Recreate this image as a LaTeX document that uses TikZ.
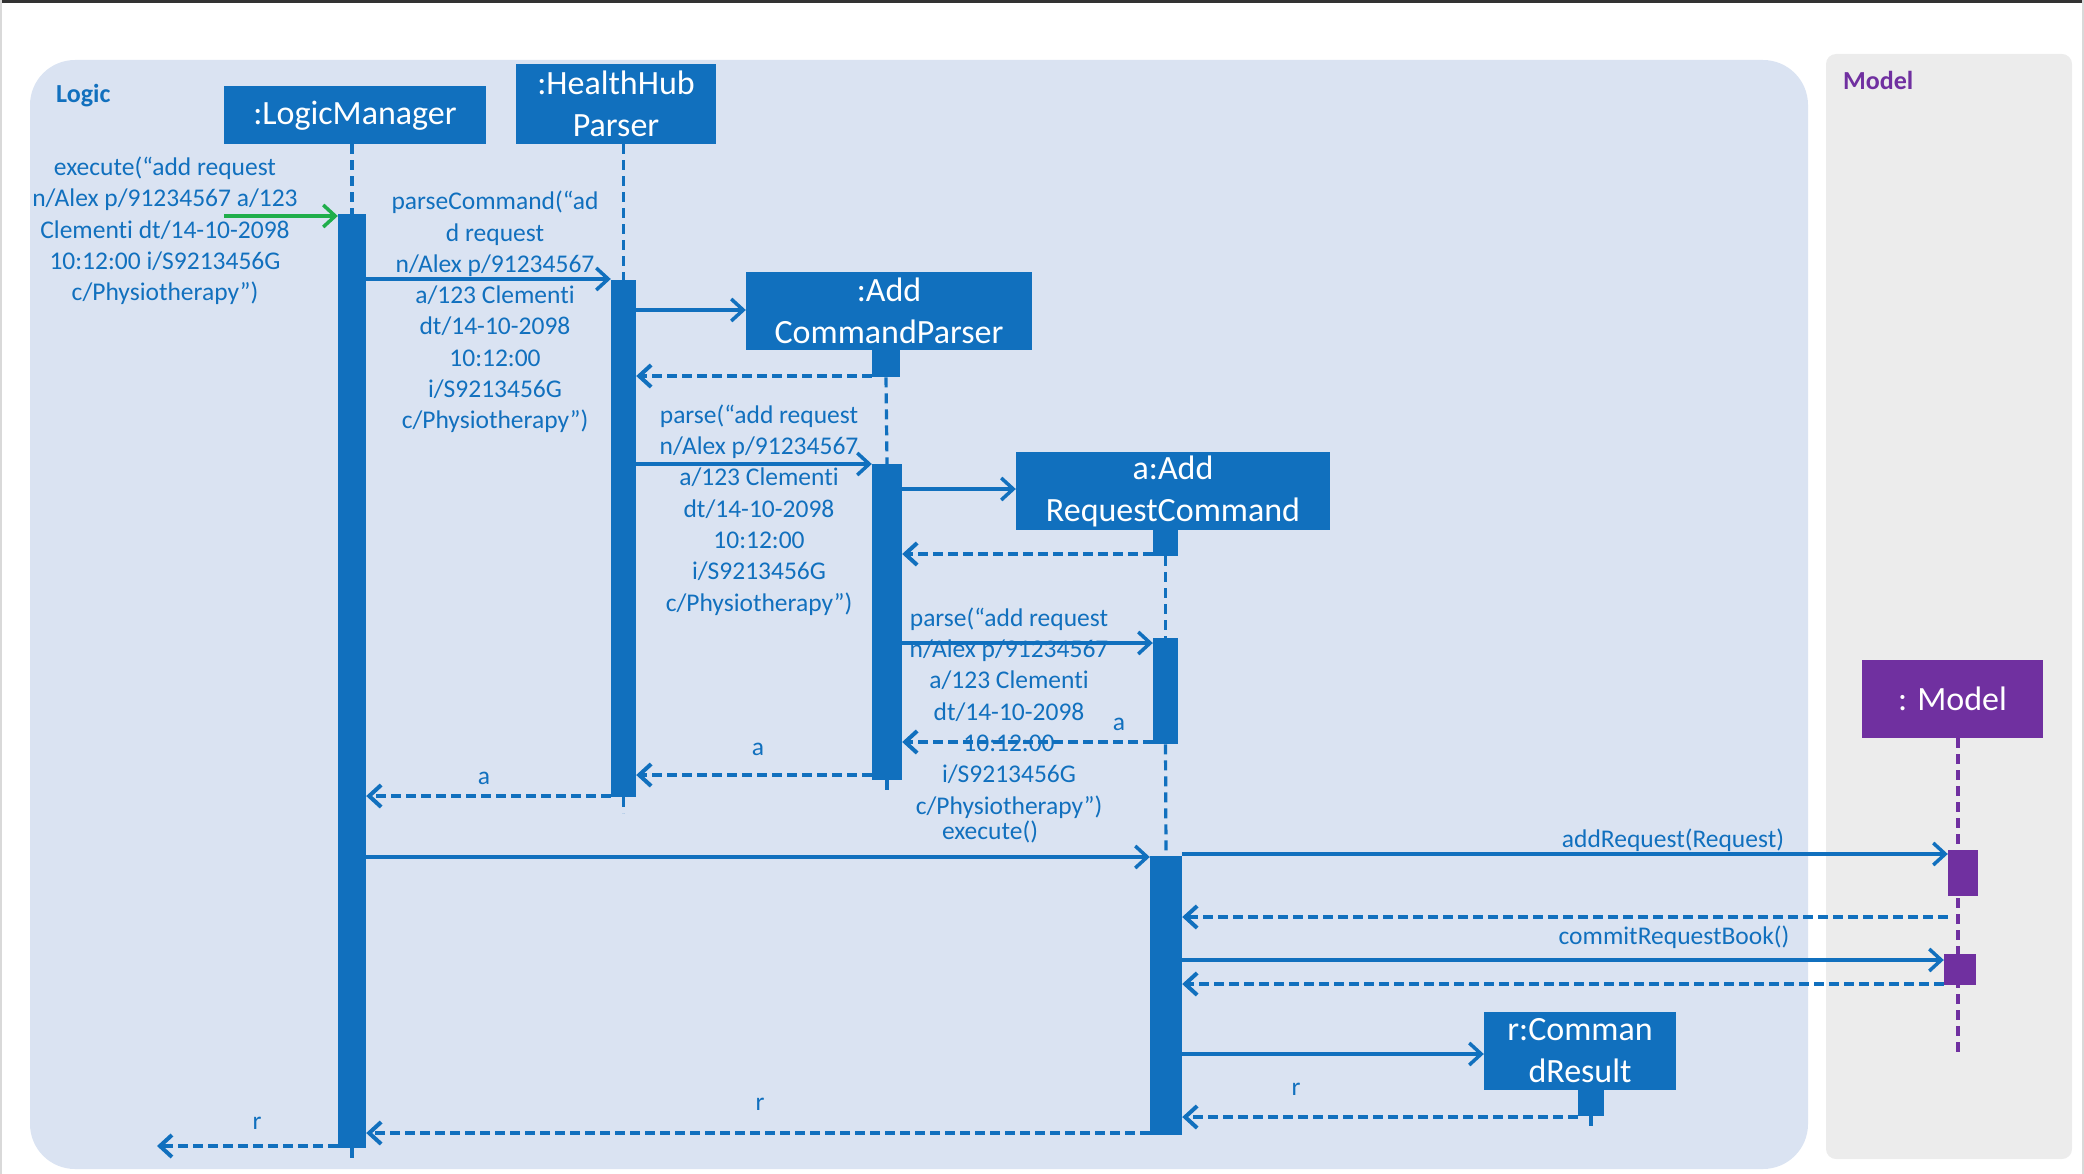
\documentclass[tikz,border=0pt]{standalone}
\usepackage{fontspec}
\setmainfont{Carlito}[Ligatures=NoCommon]
\usetikzlibrary{arrows.meta}
\definecolor{umlblue}{HTML}{1170BE}
\definecolor{umlpurple}{HTML}{7030A0}
\definecolor{umlgreen}{HTML}{1FAE4B}
\definecolor{logicbg}{HTML}{DAE3F2}
\definecolor{modelbg}{HTML}{ECECEC}

\begin{document}
\begin{tikzpicture}[x=1pt,y=-1pt,
  obj/.style={fill=umlblue,text=white,inner sep=0pt,align=center,font=\fontsize{34}{42}\selectfont},
  act/.style={fill=umlblue,inner sep=0pt,minimum width=28pt,anchor=north},
  life/.style={umlblue,line width=3.2pt,dash pattern=on 10pt off 6pt},
  msg/.style={umlblue,line width=3.5pt,-{Straight Barb[length=12pt,width=22pt]}},
  ret/.style={msg,line width=4pt,dash pattern=on 10pt off 5pt},
  lbl/.style={text=umlblue,inner sep=0pt,align=center,font=\fontsize{25.5}{31.3}\selectfont}]
\useasboundingbox (0,0) rectangle (2084,1174);
\fill[black!80] (0,0) rectangle (2084,3);
\fill[black!15] (0,0) rectangle (2,1174);
\fill[black!15] (2082,0) rectangle (2084,1174);

\fill[logicbg, rounded corners=45pt] (30,60) rectangle (1808,1169);
\fill[modelbg, rounded corners=10pt] (1826,54) rectangle (2072,1159);
\node[text=umlblue, font=\bfseries\fontsize{26}{30}\selectfont, anchor=west, inner sep=0pt] (logiclbl) at (56,96) {Logic};
\node[text=umlpurple, font=\bfseries\fontsize{26}{30}\selectfont, anchor=west, inner sep=0pt] (modellbl) at (1843,80) {Model};

\node[obj, minimum width=262pt, minimum height=58pt, text depth=4pt] (lm) at (355,115) {:LogicManager};
\node[obj, minimum width=200pt, minimum height=80pt] (hh) at (616,104) {:HealthHub\\Parser};
\node[obj, minimum width=286pt, minimum height=78pt] (acp) at (889,311) {:Add\\CommandParser};
\node[obj, minimum width=314pt, minimum height=78pt] (arc) at (1173,491) {a:Add\\RequestCommand};
\node[obj, fill=umlpurple, minimum width=181pt, minimum height=78pt] (model) at (1952.5,699) {: Model};
\node[obj, minimum width=192pt, minimum height=78pt] (cr) at (1580,1051) {r:Comman\\dResult};

\coordinate (modelend) at (1958,1054);
\draw[life, umlpurple] (model.south -| modelend) -- (modelend);

\node[act, minimum height=934pt] (lmA) at (352,214) {};
\node[act, minimum width=25pt, minimum height=517pt] (hhA) at (623.5,280) {};
\node[act, minimum height=27pt] (acpA1) at (886,350) {};
\node[act, minimum width=30pt, minimum height=316pt] (acpA2) at (887,464) {};
\node[act, minimum width=25pt, minimum height=26pt] (arcA1) at (1165.5,530) {};
\node[act, minimum width=25pt, minimum height=106pt] (arcA2) at (1165.5,638) {};
\node[act, minimum width=32pt, minimum height=279pt] (arcA3) at (1166,856) {};
\node[act, minimum width=26pt, minimum height=26pt] (crA) at (1591,1090) {};
\node[act, fill=umlpurple, minimum width=30pt, minimum height=46pt] (modA1) at (1963,850) {};
\node[act, fill=umlpurple, minimum width=32pt, minimum height=31pt] (modA2) at (1960,954) {};

\draw[life] (lm.south -| lmA.north) -- (lmA.north);
\draw[life] (lmA.south) -- ++(0,11);
\draw[life] (hh.south -| hhA.north) -- (hhA.north);
\draw[life] (hhA.south) -- ++(0,16);
\draw[life] (acpA1.south) -- (acpA2.north);
\draw[life] (acpA2.south) -- ++(0,10);
\draw[life] (arcA1.south) -- (arcA2.north);
\draw[life] (arcA2.south) -- (arcA3.north);
\draw[life] (crA.south) -- ++(0,13);

\coordinate (start) at (224,216);
\draw[msg, umlgreen] (start) -- (lmA.west |- start);
\draw[msg] (lmA.east |- 0,279) -- (hhA.west |- 0,279);
\draw[msg] (hhA.east |- 0,310) -- (acp.west |- 0,310);
\draw[ret] (acpA1.west |- 0,376) -- (hhA.east |- 0,376);
\draw[msg] (hhA.east |- acpA2.north) -- (acpA2.north west);
\draw[msg] (acpA2.east |- 0,489) -- (arc.west |- 0,489);
\draw[ret] (arcA1.west |- 0,554) -- (acpA2.east |- 0,554);
\draw[msg] (acpA2.east |- 0,643) -- (arcA2.west |- 0,643);
\draw[ret] (arcA2.west |- 0,742) -- (acpA2.east |- 0,742);
\draw[ret] (acpA2.west |- 0,775) -- (hhA.east |- 0,775);
\draw[ret] (hhA.west |- 0,796) -- (lmA.east |- 0,796);
\draw[msg] (lmA.east |- 0,857) -- (arcA3.west |- 0,857);
\draw[msg] (arcA3.east |- 0,854) -- (modA1.west |- 0,854);
\draw[ret] (modA1.west |- 0,917) -- (arcA3.east |- 0,917);
\draw[msg] (arcA3.east |- 0,960) -- (modA2.west |- 0,960);
\draw[ret] (modA2.west |- 0,984) -- (arcA3.east |- 0,984);
\draw[msg] (arcA3.east |- 0,1054) -- (cr.west |- 0,1054);
\draw[ret] (crA.west |- 0,1117) -- (arcA3.east |- 0,1117);
\draw[ret] (arcA3.west |- 0,1133) -- (lmA.east |- 0,1133);
\coordinate (exit) at (157,1146);
\draw[ret] (lmA.west |- exit) -- (exit);

\node[lbl] (execlbl) at (165,231) {execute(“add request\\n/Alex p/91234567 a/123\\Clementi dt/14-10-2098\\10:12:00 i/S9213456G\\c/Physiotherapy”)};
\node[lbl] (parsecmdlbl) at (495,312) {parseCommand(“ad\\d request\\n/Alex p/91234567\\a/123 Clementi\\dt/14-10-2098\\10:12:00\\i/S9213456G\\c/Physiotherapy”)};
\node[lbl] (parselbl) at (759,510) {parse(“add request\\n/Alex p/91234567\\a/123 Clementi\\dt/14-10-2098\\10:12:00\\i/S9213456G\\c/Physiotherapy”)};
\node[lbl] (parsetwolbl) at (1009,713) {parse(“add request\\n/Alex p/91234567\\a/123 Clementi\\dt/14-10-2098\\10:12:00\\i/S9213456G\\c/Physiotherapy”)};
\node[lbl] (executelbl) at (990,832) {execute()};
\node[lbl] (aone) at (1119,724) {a};
\node[lbl] (atwo) at (758,749) {a};
\node[lbl] (athree) at (484,778) {a};
\node[lbl] (addlbl) at (1673,840) {addRequest(Request)};
\node[lbl] (commitlbl) at (1674,937) {commitRequestBook()};
\node[lbl] (rone) at (1296,1089) {r};
\node[lbl] (rtwo) at (760,1104) {r};
\node[lbl] (rthree) at (257,1123) {r};
\end{tikzpicture}
\end{document}
